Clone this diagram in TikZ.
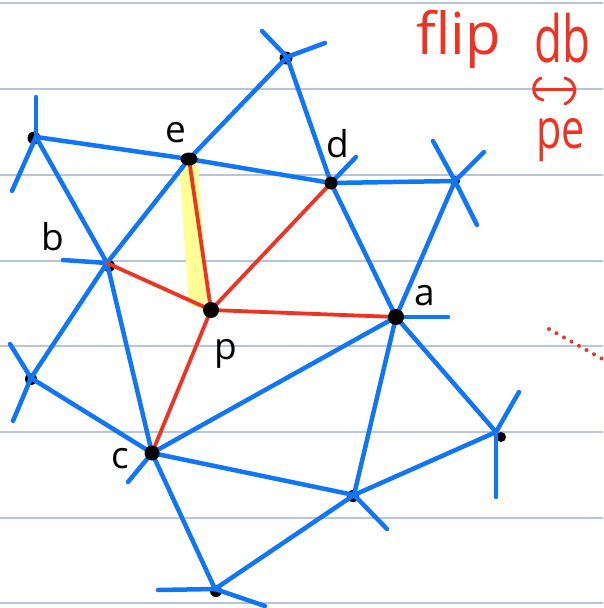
\documentclass[tikz,border=0pt]{standalone}
\usepackage{fontspec}
\setmainfont{Open Sans}
\definecolor{eblue}{RGB}{16,118,245}
\definecolor{ered}{RGB}{236,52,36}
\definecolor{rulecol}{RGB}{184,196,218}
\definecolor{hilite}{RGB}{255,255,150}
\begin{document}
\begin{tikzpicture}[x=1pt,y=-1pt,
  blueedge/.style={line width=4.5pt, draw=eblue, line cap=round},
  rededge/.style={line width=3.8pt, draw=ered, line cap=round},
  rule/.style={line width=1.6pt, draw=rulecol},
  lbl/.style={font=\fontsize{37}{37}\selectfont, text=black, inner sep=0pt, anchor=base west},
  redtxt/.style={text=ered, inner sep=0pt, anchor=base west},
  redpen/.style={draw=ered, line width=3pt, line cap=round}]
\useasboundingbox (0,0) rectangle (603,608);
\fill[white] (0,0) rectangle (603,608);
\foreach \yy in {3,89,175,261,346,432,518,603} \draw[rule] (0,\yy) -- (603,\yy);

% vertices
\coordinate (T) at (287,57);
\coordinate (e) at (189,159);
\coordinate (d) at (331,183);
\coordinate (R1) at (455,181);
\coordinate (L1) at (36,137);
\coordinate (b) at (107,263);
\coordinate (p) at (211,310);
\coordinate (a) at (396,317);
\coordinate (L2) at (31,378);
\coordinate (c) at (152,453);
\coordinate (R2) at (496,432);
\coordinate (B1) at (354,495);
\coordinate (B2) at (215,589);
% stub ends
\coordinate (T1) at (262,31);
\coordinate (T2) at (325,43);
\coordinate (L1a) at (36,97);
\coordinate (L1b) at (12,191);
\coordinate (b1) at (63,260);
\coordinate (L2a) at (10,344);
\coordinate (L2b) at (13,421);
\coordinate (c1) at (128,482);
\coordinate (B2a) at (158,590);
\coordinate (B2b) at (265,606);
\coordinate (d1) at (356,157);
\coordinate (R1a) at (433,141);
\coordinate (R1b) at (484,152);
\coordinate (R1c) at (477,225);
\coordinate (a1) at (448,317);
\coordinate (R2a) at (519,392);
\coordinate (R2b) at (496,497);
\coordinate (B1a) at (387,529);

% highlight
\draw[hilite, line width=19pt, line cap=round] (189,170) -- (198,298);

% minor vertex marks
\foreach \pt/\dx/\dy/\r in {T/-1/1/6.5,L1/-2/1/6.5,b/2/3/6,L2/0/1/6,R1/0/0/5,B1/-1/1/6,B2/1/2/6}
  \fill[black] (\pt) ++(\dx,\dy) circle (\r);
\fill[black] (R2) ++(5,5) circle (5);

% blue edges
\foreach \u/\v in {L1/e,e/T,T/d,e/d,d/R1,R1/a,d/a,L1/b,e/b,b/L2,b/c,L2/c,c/a,c/B1,a/B1,a/R2,B1/R2,c/B2,B2/B1,
  T/T1,T/T2,L1/L1a,L1/L1b,b/b1,L2/L2a,L2/L2b,c/c1,B2/B2a,B2/B2b,d/d1,R1/R1a,R1/R1b,R1/R1c,a/a1,R2/R2a,R2/R2b,B1/B1a}
  \draw[blueedge] (\u) -- (\v);

% red edges
\foreach \v in {e,b,d,a,c}
  \draw[rededge] (p) -- (\v);

% main vertex dots
\fill[black] (e) ellipse (8.5 and 6.5);
\fill[black] (p) circle (8);
\fill[black] (a) circle (8);
\fill[black] (c) circle (7.5);
\fill[black] (d) circle (6.5);

% labels
\node[lbl] (le) at (165,142) {e};
\node[lbl] (ld) at (326,157) {d};
\node[lbl] (lb) at (41,250) {b};
\node[lbl] (lc) at (111,468) {c};
\node[lbl] (lp) at (214,359) {p};
\node[lbl] (la) at (414,305) {a};

% red notes
\node[redtxt, font=\fontsize{58}{58}\selectfont] (flip) at (416,54) {flip};
\node[redtxt, font=\fontsize{52}{52}\selectfont] (db) at (534,62) {\scalebox{0.88}[1.25]{db}};
\node[redtxt, font=\fontsize{46}{46}\selectfont] (pe) at (536,148) {\scalebox{0.9}[1.2]{pe}};
\coordinate (arL) at (534,89);
\coordinate (arR) at (575,89);
\draw[redpen] (arL) -- (arR);
\draw[redpen] (541,78) .. controls (531,82) and (531,98) .. (543,100);
\draw[redpen] (565,78) .. controls (578,82) and (578,98) .. (565,104);

% dotted red line
\coordinate (dt1) at (549,329);
\coordinate (dt2) at (606,361);
\draw[ered, line width=4pt, line cap=round, dash pattern=on 0pt off 8.6pt] (dt1) -- (dt2);
\end{tikzpicture}
\end{document}
